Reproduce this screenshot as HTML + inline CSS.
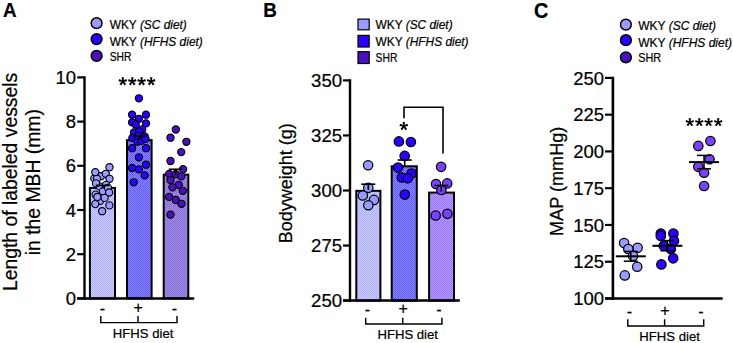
<!DOCTYPE html>
<html><head><meta charset="utf-8"><title>Figure</title>
<style>html,body{margin:0;padding:0;background:#fff;}svg{display:block;}text{font-family:"Liberation Sans", sans-serif;fill:#000;stroke:#000;stroke-width:0.22px;}</style>
</head><body>
<svg width="733" height="343" viewBox="0 0 733 343">
<defs>
<pattern id="p1" width="2" height="2" patternUnits="userSpaceOnUse"><rect width="2" height="2" fill="#d0d0ff"/><rect width="1" height="1" fill="#aaaaff"/><rect x="1" y="1" width="1" height="1" fill="#aaaaff"/></pattern>
<pattern id="p2" width="2" height="2" patternUnits="userSpaceOnUse"><rect width="2" height="2" fill="#8e88ff"/><rect width="1" height="1" fill="#5e58ff"/><rect x="1" y="1" width="1" height="1" fill="#5e58ff"/></pattern>
<pattern id="p3" width="2" height="2" patternUnits="userSpaceOnUse"><rect width="2" height="2" fill="#a290e4"/><rect width="1" height="1" fill="#806cd4"/><rect x="1" y="1" width="1" height="1" fill="#806cd4"/></pattern>
<pattern id="p3b" width="2" height="2" patternUnits="userSpaceOnUse"><rect width="2" height="2" fill="#b696ff"/><rect width="1" height="1" fill="#9a7afc"/><rect x="1" y="1" width="1" height="1" fill="#9a7afc"/></pattern>
</defs>
<rect x="0" y="0" width="733" height="343" fill="#fff"/>
<text transform="translate(3.1,17.3) scale(0.9,1)" font-size="20.9" font-weight="bold" stroke="#000" stroke-width="0.3">A</text>
<circle cx="96.6" cy="23.2" r="5.4" fill="#9a9aff" stroke="#000" stroke-width="1.5"/>
<text x="109.7" y="28.8" font-size="12.6" textLength="77.1" lengthAdjust="spacingAndGlyphs">WKY <tspan font-style="italic">(SC diet)</tspan></text>
<circle cx="96.6" cy="39.1" r="5.4" fill="#2a00ff" stroke="#000" stroke-width="1.5"/>
<text x="109.7" y="45.7" font-size="12.6" textLength="93.1" lengthAdjust="spacingAndGlyphs">WKY <tspan font-style="italic">(HFHS diet)</tspan></text>
<circle cx="96.6" cy="55.8" r="5.4" fill="#4a10c0" stroke="#000" stroke-width="1.5"/>
<text x="109.7" y="61.3" font-size="12.6" textLength="21.9" lengthAdjust="spacingAndGlyphs">SHR</text>
<text transform="translate(17.4,181.9) rotate(-90)" font-size="19.35" text-anchor="middle">Length of labeled vessels</text>
<text transform="translate(40.2,182.2) rotate(-90)" font-size="19.35" text-anchor="middle">in the MBH (mm)</text>
<rect x="89.90" y="187.90" width="25.10" height="110.50" fill="url(#p1)" stroke="#000" stroke-width="2"/>
<rect x="127.00" y="140.16" width="24.60" height="158.24" fill="url(#p2)" stroke="#000" stroke-width="2"/>
<rect x="163.70" y="174.64" width="24.60" height="123.76" fill="url(#p3)" stroke="#000" stroke-width="2"/>
<line x1="84.5" y1="76.3" x2="84.5" y2="299.6" stroke="#000" stroke-width="2.4" stroke-linecap="butt"/>
<line x1="77.2" y1="298.4" x2="194.2" y2="298.4" stroke="#000" stroke-width="2.5" stroke-linecap="butt"/>
<line x1="77.2" y1="298.4" x2="84.5" y2="298.4" stroke="#000" stroke-width="2.2" stroke-linecap="butt"/>
<text x="76.1" y="304.9" font-size="18.5" text-anchor="end" font-weight="normal" font-style="normal" >0</text>
<line x1="77.2" y1="254.2" x2="84.5" y2="254.2" stroke="#000" stroke-width="2.2" stroke-linecap="butt"/>
<text x="76.1" y="260.7" font-size="18.5" text-anchor="end" font-weight="normal" font-style="normal" >2</text>
<line x1="77.2" y1="209.99999999999997" x2="84.5" y2="209.99999999999997" stroke="#000" stroke-width="2.2" stroke-linecap="butt"/>
<text x="76.1" y="216.49999999999997" font-size="18.5" text-anchor="end" font-weight="normal" font-style="normal" >4</text>
<line x1="77.2" y1="165.79999999999995" x2="84.5" y2="165.79999999999995" stroke="#000" stroke-width="2.2" stroke-linecap="butt"/>
<text x="76.1" y="172.29999999999995" font-size="18.5" text-anchor="end" font-weight="normal" font-style="normal" >6</text>
<line x1="77.2" y1="121.59999999999997" x2="84.5" y2="121.59999999999997" stroke="#000" stroke-width="2.2" stroke-linecap="butt"/>
<text x="76.1" y="128.09999999999997" font-size="18.5" text-anchor="end" font-weight="normal" font-style="normal" >8</text>
<line x1="77.2" y1="77.39999999999998" x2="84.5" y2="77.39999999999998" stroke="#000" stroke-width="2.2" stroke-linecap="butt"/>
<text x="76.1" y="83.89999999999998" font-size="18.5" text-anchor="end" font-weight="normal" font-style="normal" >10</text>
<circle cx="94.3" cy="178.4" r="3.6" fill="#9a9aff" stroke="#000" stroke-width="1.15"/>
<circle cx="101" cy="176.20000000000002" r="3.6" fill="#9a9aff" stroke="#000" stroke-width="1.15"/>
<circle cx="109.5" cy="167.20000000000002" r="3.6" fill="#9a9aff" stroke="#000" stroke-width="1.15"/>
<circle cx="95.3" cy="172.20000000000002" r="3.6" fill="#9a9aff" stroke="#000" stroke-width="1.15"/>
<circle cx="105.8" cy="173.8" r="3.6" fill="#9a9aff" stroke="#000" stroke-width="1.15"/>
<circle cx="97" cy="178.8" r="3.6" fill="#9a9aff" stroke="#000" stroke-width="1.15"/>
<circle cx="109.5" cy="178.8" r="3.6" fill="#9a9aff" stroke="#000" stroke-width="1.15"/>
<circle cx="99.5" cy="186.4" r="3.6" fill="#9a9aff" stroke="#000" stroke-width="1.15"/>
<circle cx="106" cy="184.9" r="3.6" fill="#9a9aff" stroke="#000" stroke-width="1.15"/>
<circle cx="103" cy="191.4" r="3.6" fill="#9a9aff" stroke="#000" stroke-width="1.15"/>
<circle cx="96" cy="183.4" r="3.6" fill="#9a9aff" stroke="#000" stroke-width="1.15"/>
<circle cx="108" cy="187.9" r="3.6" fill="#9a9aff" stroke="#000" stroke-width="1.15"/>
<circle cx="100" cy="200.9" r="3.6" fill="#9a9aff" stroke="#000" stroke-width="1.15"/>
<circle cx="95.6" cy="194.6" r="3.6" fill="#9a9aff" stroke="#000" stroke-width="1.15"/>
<circle cx="109.1" cy="192.5" r="3.6" fill="#9a9aff" stroke="#000" stroke-width="1.15"/>
<circle cx="97.4" cy="197.0" r="3.6" fill="#9a9aff" stroke="#000" stroke-width="1.15"/>
<circle cx="104.6" cy="197.9" r="3.6" fill="#9a9aff" stroke="#000" stroke-width="1.15"/>
<circle cx="95.3" cy="204.1" r="3.6" fill="#9a9aff" stroke="#000" stroke-width="1.15"/>
<circle cx="109.4" cy="205.4" r="3.6" fill="#9a9aff" stroke="#000" stroke-width="1.15"/>
<circle cx="102.1" cy="211.20000000000002" r="3.6" fill="#9a9aff" stroke="#000" stroke-width="1.15"/>
<circle cx="138.9" cy="98.30000000000001" r="3.6" fill="#2a00ff" stroke="#000" stroke-width="1.15"/>
<circle cx="132.1" cy="114.7" r="3.6" fill="#2a00ff" stroke="#000" stroke-width="1.15"/>
<circle cx="146" cy="114.7" r="3.6" fill="#2a00ff" stroke="#000" stroke-width="1.15"/>
<circle cx="138.9" cy="118.80000000000001" r="3.6" fill="#2a00ff" stroke="#000" stroke-width="1.15"/>
<circle cx="132.1" cy="122.4" r="3.6" fill="#2a00ff" stroke="#000" stroke-width="1.15"/>
<circle cx="146" cy="123.4" r="3.6" fill="#2a00ff" stroke="#000" stroke-width="1.15"/>
<circle cx="135.7" cy="124.5" r="3.6" fill="#2a00ff" stroke="#000" stroke-width="1.15"/>
<circle cx="142.2" cy="129.4" r="3.6" fill="#2a00ff" stroke="#000" stroke-width="1.15"/>
<circle cx="134" cy="132.4" r="3.6" fill="#2a00ff" stroke="#000" stroke-width="1.15"/>
<circle cx="139" cy="131.4" r="3.6" fill="#2a00ff" stroke="#000" stroke-width="1.15"/>
<circle cx="144.7" cy="136.4" r="3.6" fill="#2a00ff" stroke="#000" stroke-width="1.15"/>
<circle cx="132.4" cy="137.9" r="3.6" fill="#2a00ff" stroke="#000" stroke-width="1.15"/>
<circle cx="137.3" cy="141.70000000000002" r="3.6" fill="#2a00ff" stroke="#000" stroke-width="1.15"/>
<circle cx="141.4" cy="140.9" r="3.6" fill="#2a00ff" stroke="#000" stroke-width="1.15"/>
<circle cx="132.1" cy="148.20000000000002" r="3.6" fill="#2a00ff" stroke="#000" stroke-width="1.15"/>
<circle cx="146" cy="148.20000000000002" r="3.6" fill="#2a00ff" stroke="#000" stroke-width="1.15"/>
<circle cx="138.9" cy="157.3" r="3.6" fill="#2a00ff" stroke="#000" stroke-width="1.15"/>
<circle cx="146" cy="164.70000000000002" r="3.6" fill="#2a00ff" stroke="#000" stroke-width="1.15"/>
<circle cx="132.1" cy="168.0" r="3.6" fill="#2a00ff" stroke="#000" stroke-width="1.15"/>
<circle cx="138.9" cy="169.4" r="3.6" fill="#2a00ff" stroke="#000" stroke-width="1.15"/>
<circle cx="144.7" cy="175.4" r="3.6" fill="#2a00ff" stroke="#000" stroke-width="1.15"/>
<circle cx="133.7" cy="182.3" r="3.6" fill="#2a00ff" stroke="#000" stroke-width="1.15"/>
<circle cx="145.5" cy="138.9" r="3.6" fill="#2a00ff" stroke="#000" stroke-width="1.15"/>
<circle cx="138" cy="135.9" r="3.6" fill="#2a00ff" stroke="#000" stroke-width="1.15"/>
<circle cx="175.8" cy="129.5" r="3.6" fill="#4a10c0" stroke="#000" stroke-width="1.15"/>
<circle cx="170.5" cy="137.7" r="3.6" fill="#4a10c0" stroke="#000" stroke-width="1.15"/>
<circle cx="186.4" cy="141.8" r="3.6" fill="#4a10c0" stroke="#000" stroke-width="1.15"/>
<circle cx="181.2" cy="152.1" r="3.6" fill="#4a10c0" stroke="#000" stroke-width="1.15"/>
<circle cx="170.5" cy="161.0" r="3.6" fill="#4a10c0" stroke="#000" stroke-width="1.15"/>
<circle cx="183.1" cy="169.2" r="3.6" fill="#4a10c0" stroke="#000" stroke-width="1.15"/>
<circle cx="169.2" cy="174.0" r="3.6" fill="#4a10c0" stroke="#000" stroke-width="1.15"/>
<circle cx="175.8" cy="174.2" r="3.6" fill="#4a10c0" stroke="#000" stroke-width="1.15"/>
<circle cx="181.2" cy="176.4" r="3.6" fill="#4a10c0" stroke="#000" stroke-width="1.15"/>
<circle cx="170.5" cy="180.0" r="3.6" fill="#4a10c0" stroke="#000" stroke-width="1.15"/>
<circle cx="178.7" cy="184.9" r="3.6" fill="#4a10c0" stroke="#000" stroke-width="1.15"/>
<circle cx="172.5" cy="187.3" r="3.6" fill="#4a10c0" stroke="#000" stroke-width="1.15"/>
<circle cx="182.8" cy="190.8" r="3.6" fill="#4a10c0" stroke="#000" stroke-width="1.15"/>
<circle cx="169.1" cy="196.9" r="3.6" fill="#4a10c0" stroke="#000" stroke-width="1.15"/>
<circle cx="175.8" cy="200.0" r="3.6" fill="#4a10c0" stroke="#000" stroke-width="1.15"/>
<circle cx="181.5" cy="203.8" r="3.6" fill="#4a10c0" stroke="#000" stroke-width="1.15"/>
<circle cx="170.5" cy="214.6" r="3.6" fill="#4a10c0" stroke="#000" stroke-width="1.15"/>
<line x1="102.6" y1="185.4" x2="102.6" y2="188.4" stroke="#000" stroke-width="1.7" stroke-linecap="butt"/>
<line x1="95.8" y1="185.4" x2="109.39999999999999" y2="185.4" stroke="#000" stroke-width="1.7" stroke-linecap="butt"/>
<line x1="139.3" y1="135.9" x2="139.3" y2="140" stroke="#000" stroke-width="1.7" stroke-linecap="butt"/>
<line x1="132.5" y1="135.9" x2="146.10000000000002" y2="135.9" stroke="#000" stroke-width="1.7" stroke-linecap="butt"/>
<line x1="175.6" y1="169.3" x2="175.6" y2="175" stroke="#000" stroke-width="1.7" stroke-linecap="butt"/>
<line x1="168.79999999999998" y1="169.3" x2="182.4" y2="169.3" stroke="#000" stroke-width="1.7" stroke-linecap="butt"/>
<path d="M123.48,81.40 L123.95,77.25 L121.65,77.25 L122.12,81.40Z M123.01,82.05 L127.10,81.21 L126.39,79.02 L122.59,80.75Z M122.25,81.80 L124.31,85.43 L126.17,84.08 L123.35,81.00Z M122.25,81.00 L119.43,84.08 L121.29,85.43 L123.35,81.80Z M123.01,80.75 L119.21,79.02 L118.50,81.21 L122.59,82.05Z" fill="#000"/>
<path d="M132.98,81.40 L133.45,77.25 L131.15,77.25 L131.62,81.40Z M132.51,82.05 L136.60,81.21 L135.89,79.02 L132.09,80.75Z M131.75,81.80 L133.81,85.43 L135.67,84.08 L132.85,81.00Z M131.75,81.00 L128.93,84.08 L130.79,85.43 L132.85,81.80Z M132.51,80.75 L128.71,79.02 L128.00,81.21 L132.09,82.05Z" fill="#000"/>
<path d="M142.28,81.40 L142.75,77.25 L140.45,77.25 L140.92,81.40Z M141.81,82.05 L145.90,81.21 L145.19,79.02 L141.39,80.75Z M141.05,81.80 L143.11,85.43 L144.97,84.08 L142.15,81.00Z M141.05,81.00 L138.23,84.08 L140.09,85.43 L142.15,81.80Z M141.81,80.75 L138.01,79.02 L137.30,81.21 L141.39,82.05Z" fill="#000"/>
<path d="M151.88,81.40 L152.35,77.25 L150.05,77.25 L150.52,81.40Z M151.41,82.05 L155.50,81.21 L154.79,79.02 L150.99,80.75Z M150.65,81.80 L152.71,85.43 L154.57,84.08 L151.75,81.00Z M150.65,81.00 L147.83,84.08 L149.69,85.43 L151.75,81.80Z M151.41,80.75 L147.61,79.02 L146.90,81.21 L150.99,82.05Z" fill="#000"/>
<text x="102.4" y="313.7" font-size="16" text-anchor="middle" font-weight="normal" font-style="normal" >-</text>
<text x="138.2" y="313.4" font-size="16" text-anchor="middle" font-weight="normal" font-style="normal" >+</text>
<text x="174.4" y="313.7" font-size="16" text-anchor="middle" font-weight="normal" font-style="normal" >-</text>
<path d="M100.8,316.0 V322.6 H177 V316.0 M138,316.0 V322.6" fill="none" stroke="#000" stroke-width="1.45"/>
<text x="143.1" y="337.6" font-size="13.6" text-anchor="middle" font-weight="normal" font-style="normal" textLength="60.6" lengthAdjust="spacingAndGlyphs">HFHS diet</text>
<text transform="translate(263.2,17.3) scale(0.9,1)" font-size="20.9" font-weight="bold" stroke="#000" stroke-width="0.3">B</text>
<rect x="358.0" y="19.10" width="11.2" height="10.7" fill="#9a9aff" stroke="#000" stroke-width="1.2"/>
<text x="375.5" y="28.8" font-size="12.6" textLength="77.1" lengthAdjust="spacingAndGlyphs">WKY <tspan font-style="italic">(SC diet)</tspan></text>
<rect x="358.0" y="35.40" width="11.2" height="11.6" fill="#2a00ff" stroke="#000" stroke-width="1.2"/>
<text x="375.5" y="46.2" font-size="12.6" textLength="93.1" lengthAdjust="spacingAndGlyphs">WKY <tspan font-style="italic">(HFHS diet)</tspan></text>
<rect x="358.0" y="51.70" width="11.2" height="11.8" fill="#4a10c0" stroke="#000" stroke-width="1.2"/>
<text x="375.5" y="62.3" font-size="12.6" textLength="21.9" lengthAdjust="spacingAndGlyphs">SHR</text>
<text transform="translate(292.2,183.2) rotate(-90)" font-size="18" text-anchor="middle">Bodyweight (g)</text>
<rect x="356.30" y="190.83" width="24.10" height="109.77" fill="url(#p1)" stroke="#000" stroke-width="2"/>
<rect x="391.70" y="166.28" width="25.10" height="134.32" fill="url(#p2)" stroke="#000" stroke-width="2"/>
<rect x="429.10" y="192.59" width="24.90" height="108.01" fill="url(#p3b)" stroke="#000" stroke-width="2"/>
<line x1="350" y1="79.3" x2="350" y2="301.8" stroke="#000" stroke-width="2.4" stroke-linecap="butt"/>
<line x1="343" y1="300.6" x2="459.8" y2="300.6" stroke="#000" stroke-width="2.5" stroke-linecap="butt"/>
<line x1="343" y1="300.6" x2="350" y2="300.6" stroke="#000" stroke-width="2.2" stroke-linecap="butt"/>
<text x="342.1" y="306.90000000000003" font-size="18.6" text-anchor="end" font-weight="normal" font-style="normal" >250</text>
<line x1="343" y1="245.55" x2="350" y2="245.55" stroke="#000" stroke-width="2.2" stroke-linecap="butt"/>
<text x="342.1" y="251.85000000000002" font-size="18.6" text-anchor="end" font-weight="normal" font-style="normal" >275</text>
<line x1="343" y1="190.50000000000003" x2="350" y2="190.50000000000003" stroke="#000" stroke-width="2.2" stroke-linecap="butt"/>
<text x="342.1" y="196.80000000000004" font-size="18.6" text-anchor="end" font-weight="normal" font-style="normal" >300</text>
<line x1="343" y1="135.45000000000002" x2="350" y2="135.45000000000002" stroke="#000" stroke-width="2.2" stroke-linecap="butt"/>
<text x="342.1" y="141.75000000000003" font-size="18.6" text-anchor="end" font-weight="normal" font-style="normal" >325</text>
<line x1="343" y1="80.40000000000003" x2="350" y2="80.40000000000003" stroke="#000" stroke-width="2.2" stroke-linecap="butt"/>
<text x="342.1" y="86.70000000000003" font-size="18.6" text-anchor="end" font-weight="normal" font-style="normal" >350</text>
<circle cx="368.1" cy="165.2" r="4.7" fill="#9a9aff" stroke="#000" stroke-width="1.25"/>
<circle cx="368.3" cy="187.8" r="4.7" fill="#9a9aff" stroke="#000" stroke-width="1.25"/>
<circle cx="362.8" cy="195.5" r="4.7" fill="#9a9aff" stroke="#000" stroke-width="1.25"/>
<circle cx="374" cy="199.9" r="4.7" fill="#9a9aff" stroke="#000" stroke-width="1.25"/>
<circle cx="368.3" cy="205.2" r="4.7" fill="#9a9aff" stroke="#000" stroke-width="1.25"/>
<circle cx="398.9" cy="141.4" r="4.7" fill="#2a00ff" stroke="#000" stroke-width="1.25"/>
<circle cx="410.9" cy="142" r="4.7" fill="#2a00ff" stroke="#000" stroke-width="1.25"/>
<circle cx="404.7" cy="155.9" r="4.7" fill="#2a00ff" stroke="#000" stroke-width="1.25"/>
<circle cx="398" cy="167.6" r="4.7" fill="#2a00ff" stroke="#000" stroke-width="1.25"/>
<circle cx="411.5" cy="173.6" r="4.7" fill="#2a00ff" stroke="#000" stroke-width="1.25"/>
<circle cx="401.8" cy="177.5" r="4.7" fill="#2a00ff" stroke="#000" stroke-width="1.25"/>
<circle cx="407.8" cy="178.2" r="4.7" fill="#2a00ff" stroke="#000" stroke-width="1.25"/>
<circle cx="404.8" cy="194.6" r="4.7" fill="#2a00ff" stroke="#000" stroke-width="1.25"/>
<circle cx="441.1" cy="166.8" r="4.7" fill="#7a40ff" stroke="#000" stroke-width="1.25"/>
<circle cx="436" cy="184" r="4.7" fill="#7a40ff" stroke="#000" stroke-width="1.25"/>
<circle cx="447.2" cy="183.4" r="4.7" fill="#7a40ff" stroke="#000" stroke-width="1.25"/>
<circle cx="441.4" cy="190" r="4.7" fill="#7a40ff" stroke="#000" stroke-width="1.25"/>
<circle cx="435.7" cy="215.5" r="4.7" fill="#7a40ff" stroke="#000" stroke-width="1.25"/>
<circle cx="447.4" cy="213.8" r="4.7" fill="#7a40ff" stroke="#000" stroke-width="1.25"/>
<line x1="368.3" y1="184.2" x2="368.3" y2="190" stroke="#000" stroke-width="1.6" stroke-linecap="butt"/>
<line x1="361.3" y1="184.2" x2="375.3" y2="184.2" stroke="#000" stroke-width="1.6" stroke-linecap="butt"/>
<line x1="404.7" y1="160" x2="404.7" y2="166" stroke="#000" stroke-width="1.6" stroke-linecap="butt"/>
<line x1="397.7" y1="160" x2="411.7" y2="160" stroke="#000" stroke-width="1.6" stroke-linecap="butt"/>
<line x1="441.3" y1="185.5" x2="441.3" y2="191.5" stroke="#000" stroke-width="1.6" stroke-linecap="butt"/>
<line x1="434.3" y1="185.5" x2="448.3" y2="185.5" stroke="#000" stroke-width="1.6" stroke-linecap="butt"/>
<path d="M404,118.3 V107.3 H443 V153.6" fill="none" stroke="#000" stroke-width="1.6"/>
<path d="M404.48,126.20 L404.95,122.05 L402.65,122.05 L403.12,126.20Z M404.01,126.85 L408.10,126.01 L407.39,123.82 L403.59,125.55Z M403.25,126.60 L405.31,130.23 L407.17,128.88 L404.35,125.80Z M403.25,125.80 L400.43,128.88 L402.29,130.23 L404.35,126.60Z M404.01,125.55 L400.21,123.82 L399.50,126.01 L403.59,126.85Z" fill="#000"/>
<text x="367.5" y="315.0" font-size="16" text-anchor="middle" font-weight="normal" font-style="normal" >-</text>
<text x="403.1" y="314.2" font-size="16" text-anchor="middle" font-weight="normal" font-style="normal" >+</text>
<text x="439.0" y="315.0" font-size="16" text-anchor="middle" font-weight="normal" font-style="normal" >-</text>
<path d="M365.7,317.7 V324.0 H441.9 V317.7 M402.7,317.7 V324.0" fill="none" stroke="#000" stroke-width="1.45"/>
<text x="407.7" y="339.3" font-size="13.6" text-anchor="middle" font-weight="normal" font-style="normal" textLength="60.6" lengthAdjust="spacingAndGlyphs">HFHS diet</text>
<text transform="translate(533.9,17.6) scale(0.92,1)" font-size="21.6" font-weight="bold" stroke="#000" stroke-width="0.3">C</text>
<circle cx="625.9" cy="24.6" r="5.4" fill="#9a9aff" stroke="#000" stroke-width="1.5"/>
<text x="638.2" y="30.3" font-size="12.6" textLength="77.8" lengthAdjust="spacingAndGlyphs">WKY <tspan font-style="italic">(SC diet)</tspan></text>
<circle cx="625.9" cy="40.2" r="5.4" fill="#2a00ff" stroke="#000" stroke-width="1.5"/>
<text x="638.2" y="47.3" font-size="12.6" textLength="93.8" lengthAdjust="spacingAndGlyphs">WKY <tspan font-style="italic">(HFHS diet)</tspan></text>
<circle cx="625.9" cy="57.3" r="5.4" fill="#4a10c0" stroke="#000" stroke-width="1.5"/>
<text x="638.2" y="62.3" font-size="12.6" textLength="22.9" lengthAdjust="spacingAndGlyphs">SHR</text>
<text transform="translate(562.8,181.3) rotate(-90)" font-size="18.1" text-anchor="middle">MAP (mmHg)</text>
<line x1="612.9" y1="76.8" x2="612.9" y2="299.8" stroke="#000" stroke-width="2.6" stroke-linecap="butt"/>
<line x1="605" y1="298.5" x2="722.7" y2="298.5" stroke="#000" stroke-width="2.7" stroke-linecap="butt"/>
<line x1="605" y1="298.5" x2="612.9" y2="298.5" stroke="#000" stroke-width="2.2" stroke-linecap="butt"/>
<text x="604.0" y="305.2" font-size="18.5" text-anchor="end" font-weight="normal" font-style="normal" >100</text>
<line x1="605" y1="261.73333333333335" x2="612.9" y2="261.73333333333335" stroke="#000" stroke-width="2.2" stroke-linecap="butt"/>
<text x="604.0" y="268.43333333333334" font-size="18.5" text-anchor="end" font-weight="normal" font-style="normal" >125</text>
<line x1="605" y1="224.96666666666667" x2="612.9" y2="224.96666666666667" stroke="#000" stroke-width="2.2" stroke-linecap="butt"/>
<text x="604.0" y="231.66666666666666" font-size="18.5" text-anchor="end" font-weight="normal" font-style="normal" >150</text>
<line x1="605" y1="188.2" x2="612.9" y2="188.2" stroke="#000" stroke-width="2.2" stroke-linecap="butt"/>
<text x="604.0" y="194.89999999999998" font-size="18.5" text-anchor="end" font-weight="normal" font-style="normal" >175</text>
<line x1="605" y1="151.43333333333334" x2="612.9" y2="151.43333333333334" stroke="#000" stroke-width="2.2" stroke-linecap="butt"/>
<text x="604.0" y="158.13333333333333" font-size="18.5" text-anchor="end" font-weight="normal" font-style="normal" >200</text>
<line x1="605" y1="114.66666666666669" x2="612.9" y2="114.66666666666669" stroke="#000" stroke-width="2.2" stroke-linecap="butt"/>
<text x="604.0" y="121.36666666666669" font-size="18.5" text-anchor="end" font-weight="normal" font-style="normal" >225</text>
<line x1="605" y1="77.9" x2="612.9" y2="77.9" stroke="#000" stroke-width="2.2" stroke-linecap="butt"/>
<text x="604.0" y="84.60000000000001" font-size="18.5" text-anchor="end" font-weight="normal" font-style="normal" >250</text>
<circle cx="624.1" cy="243.1" r="4.7" fill="#9a9aff" stroke="#000" stroke-width="1.25"/>
<circle cx="637.6" cy="247.8" r="4.7" fill="#9a9aff" stroke="#000" stroke-width="1.25"/>
<circle cx="628.3" cy="249" r="4.7" fill="#9a9aff" stroke="#000" stroke-width="1.25"/>
<circle cx="633" cy="256" r="4.7" fill="#9a9aff" stroke="#000" stroke-width="1.25"/>
<circle cx="637.2" cy="266.8" r="4.7" fill="#9a9aff" stroke="#000" stroke-width="1.25"/>
<circle cx="624.8" cy="275.4" r="4.7" fill="#9a9aff" stroke="#000" stroke-width="1.25"/>
<circle cx="660.8" cy="233.5" r="4.7" fill="#2a00ff" stroke="#000" stroke-width="1.25"/>
<circle cx="660.8" cy="235.9" r="4.7" fill="#2a00ff" stroke="#000" stroke-width="1.25"/>
<circle cx="673.4" cy="233.6" r="4.7" fill="#2a00ff" stroke="#000" stroke-width="1.25"/>
<circle cx="674.0" cy="240.8" r="4.7" fill="#2a00ff" stroke="#000" stroke-width="1.25"/>
<circle cx="663.8" cy="245.8" r="4.7" fill="#2a00ff" stroke="#000" stroke-width="1.25"/>
<circle cx="670.8" cy="249" r="4.7" fill="#2a00ff" stroke="#000" stroke-width="1.25"/>
<circle cx="673.2" cy="258.3" r="4.7" fill="#2a00ff" stroke="#000" stroke-width="1.25"/>
<circle cx="661.4" cy="264.4" r="4.7" fill="#2a00ff" stroke="#000" stroke-width="1.25"/>
<circle cx="710.4" cy="141" r="4.7" fill="#7a40ff" stroke="#000" stroke-width="1.25"/>
<circle cx="698.3" cy="145.9" r="4.7" fill="#7a40ff" stroke="#000" stroke-width="1.25"/>
<circle cx="709.5" cy="159.2" r="4.7" fill="#7a40ff" stroke="#000" stroke-width="1.25"/>
<circle cx="698.3" cy="166.8" r="4.7" fill="#7a40ff" stroke="#000" stroke-width="1.25"/>
<circle cx="704.1" cy="172.7" r="4.7" fill="#7a40ff" stroke="#000" stroke-width="1.25"/>
<circle cx="704.1" cy="186" r="4.7" fill="#7a40ff" stroke="#000" stroke-width="1.25"/>
<line x1="615.8" y1="256.3" x2="645.8" y2="256.3" stroke="#000" stroke-width="2" stroke-linecap="butt"/>
<line x1="630.8" y1="251.4" x2="630.8" y2="261.2" stroke="#000" stroke-width="1.5" stroke-linecap="butt"/>
<line x1="623.8" y1="251.4" x2="637.8" y2="251.4" stroke="#000" stroke-width="1.5" stroke-linecap="butt"/>
<line x1="623.8" y1="261.2" x2="637.8" y2="261.2" stroke="#000" stroke-width="1.5" stroke-linecap="butt"/>
<line x1="652.4" y1="245.8" x2="682.4" y2="245.8" stroke="#000" stroke-width="2" stroke-linecap="butt"/>
<line x1="667.4" y1="240.6" x2="667.4" y2="250.8" stroke="#000" stroke-width="1.5" stroke-linecap="butt"/>
<line x1="660.4" y1="240.6" x2="674.4" y2="240.6" stroke="#000" stroke-width="1.5" stroke-linecap="butt"/>
<line x1="660.4" y1="250.8" x2="674.4" y2="250.8" stroke="#000" stroke-width="1.5" stroke-linecap="butt"/>
<line x1="689" y1="162.1" x2="719" y2="162.1" stroke="#000" stroke-width="2" stroke-linecap="butt"/>
<line x1="704" y1="155.4" x2="704" y2="168.8" stroke="#000" stroke-width="1.5" stroke-linecap="butt"/>
<line x1="697" y1="155.4" x2="711" y2="155.4" stroke="#000" stroke-width="1.5" stroke-linecap="butt"/>
<line x1="697" y1="168.8" x2="711" y2="168.8" stroke="#000" stroke-width="1.5" stroke-linecap="butt"/>
<path d="M690.48,122.30 L690.95,118.15 L688.65,118.15 L689.12,122.30Z M690.01,122.95 L694.10,122.11 L693.39,119.92 L689.59,121.65Z M689.25,122.70 L691.31,126.33 L693.17,124.98 L690.35,121.90Z M689.25,121.90 L686.43,124.98 L688.29,126.33 L690.35,122.70Z M690.01,121.65 L686.21,119.92 L685.50,122.11 L689.59,122.95Z" fill="#000"/>
<path d="M699.98,122.30 L700.45,118.15 L698.15,118.15 L698.62,122.30Z M699.51,122.95 L703.60,122.11 L702.89,119.92 L699.09,121.65Z M698.75,122.70 L700.81,126.33 L702.67,124.98 L699.85,121.90Z M698.75,121.90 L695.93,124.98 L697.79,126.33 L699.85,122.70Z M699.51,121.65 L695.71,119.92 L695.00,122.11 L699.09,122.95Z" fill="#000"/>
<path d="M709.28,122.30 L709.75,118.15 L707.45,118.15 L707.92,122.30Z M708.81,122.95 L712.90,122.11 L712.19,119.92 L708.39,121.65Z M708.05,122.70 L710.11,126.33 L711.97,124.98 L709.15,121.90Z M708.05,121.90 L705.23,124.98 L707.09,126.33 L709.15,122.70Z M708.81,121.65 L705.01,119.92 L704.30,122.11 L708.39,122.95Z" fill="#000"/>
<path d="M718.88,122.30 L719.35,118.15 L717.05,118.15 L717.52,122.30Z M718.41,122.95 L722.50,122.11 L721.79,119.92 L717.99,121.65Z M717.65,122.70 L719.71,126.33 L721.57,124.98 L718.75,121.90Z M717.65,121.90 L714.83,124.98 L716.69,126.33 L718.75,122.70Z M718.41,121.65 L714.61,119.92 L713.90,122.11 L717.99,122.95Z" fill="#000"/>
<text x="629.5" y="316.8" font-size="16" text-anchor="middle" font-weight="normal" font-style="normal" >-</text>
<text x="665.0" y="316.1" font-size="16" text-anchor="middle" font-weight="normal" font-style="normal" >+</text>
<text x="701.0" y="316.8" font-size="16" text-anchor="middle" font-weight="normal" font-style="normal" >-</text>
<path d="M627.8,319.3 V325.9 H703.7 V319.3 M664.6,319.3 V325.9" fill="none" stroke="#000" stroke-width="1.45"/>
<text x="669.6" y="340.8" font-size="13.6" text-anchor="middle" font-weight="normal" font-style="normal" textLength="60.6" lengthAdjust="spacingAndGlyphs">HFHS diet</text>
</svg></body></html>
